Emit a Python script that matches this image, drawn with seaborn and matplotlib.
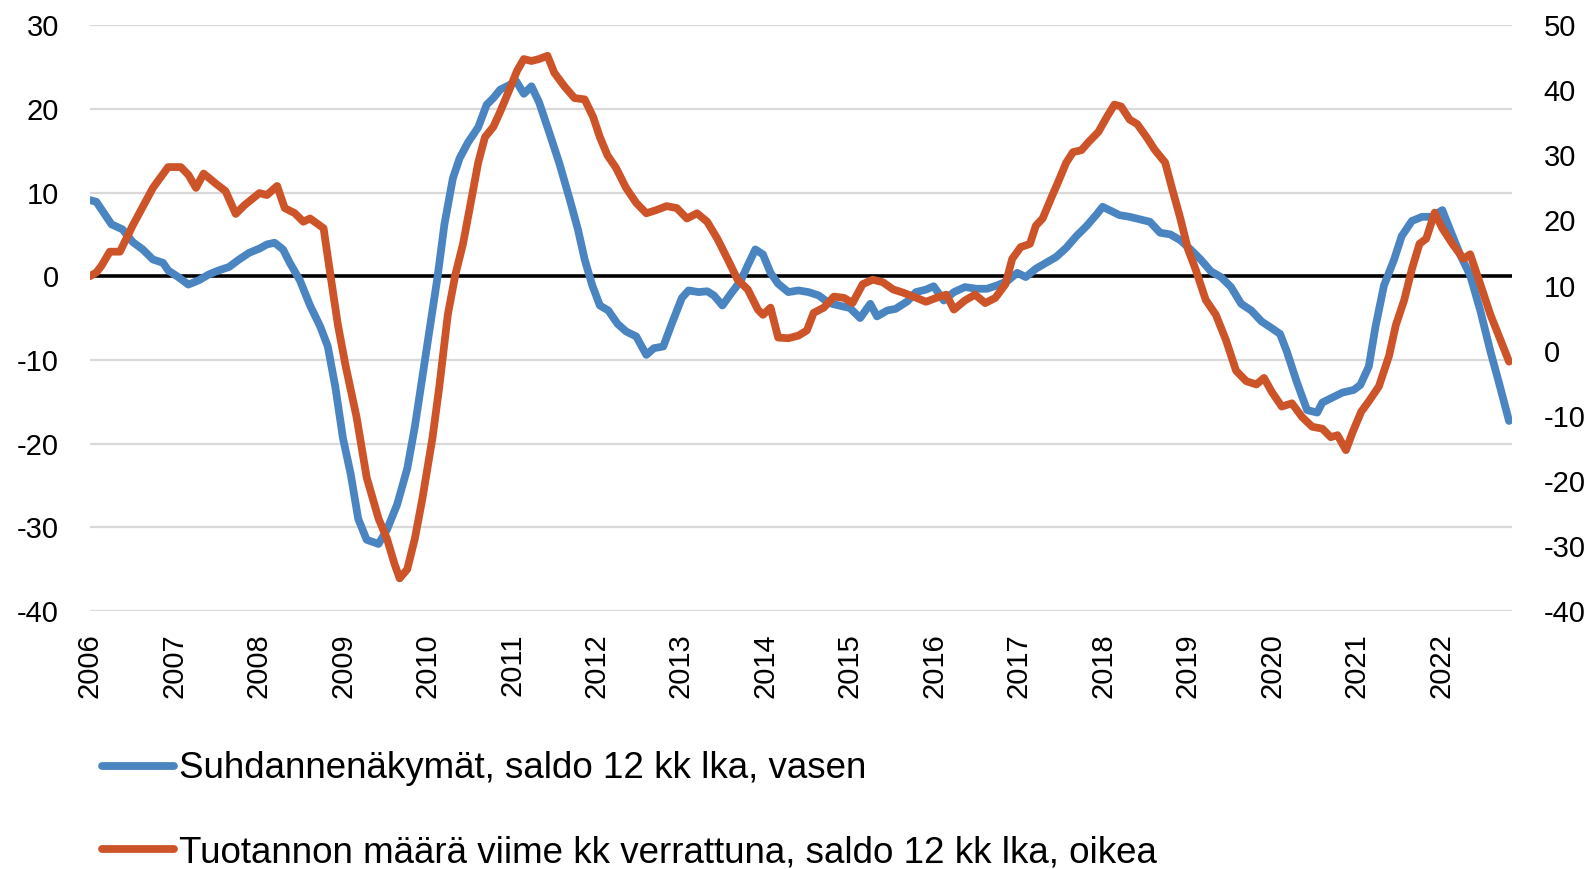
import numpy as np
import pandas as pd
import matplotlib
matplotlib.use("Agg")
import matplotlib.pyplot as plt
import seaborn as sns
from matplotlib import font_manager

# ── DATA (decimal years) ─────────────────────────────────────────
blue_year = [2006.00, 2006.08, 2006.14, 2006.26, 2006.39, 2006.51, 2006.63, 2006.75, 2006.87, 2006.93,
             2007.05, 2007.17, 2007.29, 2007.41, 2007.53, 2007.65, 2007.77, 2007.89, 2008.01, 2008.10,
             2008.19, 2008.29, 2008.37, 2008.49, 2008.61, 2008.73, 2008.82, 2008.91, 2009.00, 2009.09,
             2009.18, 2009.28, 2009.42, 2009.52, 2009.64, 2009.76, 2009.85, 2009.94, 2010.02, 2010.12,
             2010.20, 2010.30, 2010.38, 2010.48, 2010.60, 2010.70, 2010.78, 2010.86, 2010.96, 2011.05,
             2011.14, 2011.23, 2011.32, 2011.44, 2011.56, 2011.68, 2011.78, 2011.86, 2011.95, 2012.04,
             2012.14, 2012.25, 2012.35, 2012.47, 2012.59, 2012.68, 2012.79, 2012.89, 2013.01, 2013.09,
             2013.21, 2013.31, 2013.39, 2013.49, 2013.59, 2013.71, 2013.79, 2013.88, 2013.97, 2014.06,
             2014.15, 2014.27, 2014.39, 2014.51, 2014.63, 2014.75, 2014.87, 2015.00, 2015.12, 2015.24,
             2015.32, 2015.44, 2015.54, 2015.68, 2015.78, 2015.90, 2015.99, 2016.11, 2016.23, 2016.36,
             2016.50, 2016.62, 2016.74, 2016.86, 2016.98, 2017.08, 2017.20, 2017.32, 2017.44, 2017.56,
             2017.68, 2017.80, 2017.92, 2017.99, 2018.09, 2018.19, 2018.31, 2018.43, 2018.55, 2018.67,
             2018.79, 2018.91, 2019.03, 2019.15, 2019.27, 2019.39, 2019.51, 2019.63, 2019.75, 2019.87,
             2019.99, 2020.09, 2020.17, 2020.29, 2020.41, 2020.53, 2020.59, 2020.71, 2020.83, 2020.96,
             2021.04, 2021.14, 2021.22, 2021.32, 2021.44, 2021.53, 2021.65, 2021.77, 2021.89, 2022.01,
             2022.10, 2022.22, 2022.34, 2022.46, 2022.58, 2022.68, 2022.80]
blue_val = [9.1, 8.9, 8.0, 6.2, 5.6, 4.1, 3.2, 2.0, 1.6, 0.7,
            -0.1, -1.0, -0.5, 0.2, 0.7, 1.1, 2.0, 2.8, 3.3, 3.8,
            4.0, 3.2, 1.6, -0.5, -3.5, -6.0, -8.4, -13.3, -19.4, -23.6,
            -29.0, -31.5, -32.0, -30.3, -27.3, -23.0, -18.0, -12.0, -6.6, 0.0,
            6.2, 11.7, 14.1, 16.0, 17.8, 20.5, 21.3, 22.3, 22.8, 23.3,
            21.8, 22.7, 20.8, 17.2, 13.5, 9.3, 5.6, 2.0, -1.1, -3.5,
            -4.1, -5.7, -6.6, -7.2, -9.4, -8.6, -8.4, -5.7, -2.6, -1.7,
            -1.9, -1.8, -2.3, -3.5, -2.1, -0.5, 1.3, 3.2, 2.6, 0.4,
            -0.9, -1.9, -1.7, -1.9, -2.3, -3.2, -3.5, -3.8, -5.0, -3.3,
            -4.8, -4.1, -3.9, -3.0, -1.9, -1.6, -1.2, -2.9, -1.9, -1.3,
            -1.5, -1.5, -1.1, -0.6, 0.4, -0.1, 0.9, 1.6, 2.3, 3.4,
            4.8, 6.0, 7.4, 8.3, 7.8, 7.3, 7.1, 6.8, 6.5, 5.2,
            5.0, 4.3, 3.2, 2.0, 0.6, -0.1, -1.3, -3.3, -4.1, -5.4,
            -6.2, -6.9, -9.0, -12.7, -16.0, -16.3, -15.1, -14.5, -13.9, -13.6,
            -13.0, -10.8, -6.0, -1.1, 2.0, 4.8, 6.6, 7.1, 7.1, 7.9,
            5.6, 2.6, 0.1, -4.1, -9.0, -12.7, -17.3]

red_year = [2006.00, 2006.08, 2006.14, 2006.24, 2006.36, 2006.51, 2006.75, 2006.93, 2007.08, 2007.17,
            2007.26, 2007.35, 2007.51, 2007.61, 2007.73, 2007.83, 2008.01, 2008.10, 2008.22, 2008.31,
            2008.43, 2008.53, 2008.61, 2008.77, 2008.85, 2008.94, 2009.03, 2009.16, 2009.28, 2009.42,
            2009.52, 2009.61, 2009.67, 2009.76, 2009.85, 2009.94, 2010.06, 2010.14, 2010.24, 2010.33,
            2010.42, 2010.50, 2010.60, 2010.68, 2010.78, 2010.86, 2010.96, 2011.06, 2011.14, 2011.23,
            2011.32, 2011.42, 2011.50, 2011.62, 2011.74, 2011.86, 2011.96, 2012.04, 2012.13, 2012.23,
            2012.35, 2012.47, 2012.59, 2012.71, 2012.83, 2012.95, 2013.07, 2013.19, 2013.31, 2013.43,
            2013.55, 2013.67, 2013.79, 2013.91, 2013.97, 2014.06, 2014.15, 2014.27, 2014.39, 2014.49,
            2014.57, 2014.69, 2014.81, 2014.93, 2015.03, 2015.15, 2015.27, 2015.39, 2015.51, 2015.63,
            2015.75, 2015.90, 2016.02, 2016.14, 2016.23, 2016.36, 2016.48, 2016.60, 2016.72, 2016.84,
            2016.92, 2017.02, 2017.13, 2017.20, 2017.28, 2017.38, 2017.46, 2017.56, 2017.64, 2017.74,
            2017.82, 2017.94, 2018.04, 2018.13, 2018.21, 2018.31, 2018.40, 2018.51, 2018.61, 2018.73,
            2018.81, 2018.91, 2019.00, 2019.09, 2019.21, 2019.33, 2019.45, 2019.57, 2019.69, 2019.81,
            2019.90, 2019.99, 2020.11, 2020.23, 2020.35, 2020.47, 2020.59, 2020.69, 2020.77, 2020.87,
            2020.95, 2021.05, 2021.14, 2021.26, 2021.38, 2021.46, 2021.56, 2021.65, 2021.74, 2021.82,
            2021.92, 2022.01, 2022.13, 2022.26, 2022.34, 2022.46, 2022.58, 2022.70, 2022.80]
red_val = [11.4, 12.0, 13.0, 15.2, 15.2, 19.2, 25.0, 28.2, 28.2, 27.0,
           25.0, 27.2, 25.5, 24.5, 21.0, 22.3, 24.2, 23.9, 25.3, 21.9,
           21.1, 19.8, 20.3, 18.8, 11.7, 3.9, -2.3, -10.2, -19.5, -25.8,
           -28.9, -32.8, -35.0, -33.6, -28.9, -22.7, -13.3, -5.5, 5.5, 11.7,
           16.4, 21.9, 28.9, 32.8, 34.4, 36.7, 39.8, 43.0, 44.8, 44.5,
           44.8, 45.3, 42.7, 40.6, 38.8, 38.6, 35.9, 32.8, 30.0, 28.1,
           25.0, 22.7, 21.1, 21.6, 22.2, 21.9, 20.3, 21.1, 19.8, 17.2,
           14.1, 10.9, 9.4, 6.3, 5.5, 6.6, 2.0, 1.9, 2.3, 3.1,
           5.8, 6.6, 8.3, 8.1, 7.3, 10.2, 10.9, 10.5, 9.4, 8.9,
           8.3, 7.5, 8.1, 8.6, 6.3, 7.7, 8.6, 7.3, 8.1, 10.2,
           14.1, 15.9, 16.4, 19.2, 20.3, 23.4, 25.8, 28.9, 30.5, 30.8,
           32.0, 33.6, 35.9, 37.8, 37.5, 35.5, 34.8, 32.8, 30.8, 28.9,
           25.0, 20.3, 15.6, 12.5, 7.8, 5.5, 1.6, -3.1, -4.7, -5.2,
           -4.2, -6.3, -8.6, -8.1, -10.2, -11.7, -12.0, -13.3, -13.0, -15.3,
           -12.5, -9.4, -7.8, -5.5, -0.8, 3.9, 7.8, 12.5, 16.4, 17.2,
           21.2, 18.8, 16.4, 14.1, 14.8, 10.2, 5.5, 1.6, -1.7]

years = list(range(2006, 2023))
left_ticks = [-40, -30, -20, -10, 0, 10, 20, 30]
right_ticks = [-40, -30, -20, -10, 0, 10, 20, 30, 40, 50]

label_blue = "Suhdannenäkymät, saldo 12 kk lka, vasen"
label_red = "Tuotannon määrä viime kk verrattuna, saldo 12 kk lka, oikea"

blue_df = pd.DataFrame({"year": blue_year, "value": blue_val})
red_df = pd.DataFrame({"year": red_year, "value": red_val})

# ── STYLE ────────────────────────────────────────────────────────
sns.set_theme(style="white")
plt.rcParams["font.family"] = ["Liberation Sans", "DejaVu Sans"]
plt.rcParams["text.color"] = "black"
plt.rcParams["xtick.color"] = "black"
plt.rcParams["ytick.color"] = "black"

# narrow face for the legend if one is around
installed = {f.name for f in font_manager.fontManager.ttflist}
legend_family = ["Liberation Sans"]
for cand in ["Liberation Sans Narrow", "DejaVu Sans Condensed"]:
    if cand in installed:
        legend_family = [cand, "Liberation Sans"]
        break

BLUE = "#4A85C1"
RED = "#CD5429"

fig = plt.figure(figsize=(15.96, 8.69), dpi=100)
ax = fig.add_axes([0.0561, 0.297, 0.8910, 0.674])
ax2 = ax.twinx()

# gridlines + zero line on the left axis
for t in left_ticks:
    if t == 0:
        ax.axhline(0, color="black", lw=2.6, zorder=1)
    else:
        ax.axhline(t, color="#D9D9D9", lw=1.6, zorder=0)

sns.lineplot(data=blue_df, x="year", y="value", ax=ax, color=BLUE, lw=5.6,
             label=label_blue, legend=False, zorder=3)
sns.lineplot(data=red_df, x="year", y="value", ax=ax2, color=RED, lw=5.6,
             label=label_red, legend=False, zorder=3)

ax.set_xlim(2006, 2022.83)
ax.set_ylim(-40, 30)
ax2.set_ylim(-40, 50)

ax.set_xticks(years)
ax.set_xticklabels([str(y) for y in years], rotation=90, fontsize=21)
ax.set_yticks(left_ticks)
ax.set_yticklabels([str(t) for t in left_ticks], fontsize=21)
ax2.set_yticks(right_ticks)
ax2.set_yticklabels([str(t) for t in right_ticks], fontsize=21)

ax.tick_params(axis="x", length=0, pad=16)
ax.tick_params(axis="y", length=0, pad=22)
ax2.tick_params(axis="y", length=0, pad=23)
ax.set_xlabel("")
ax.set_ylabel("")
ax2.set_ylabel("")
ax.grid(False)
ax2.grid(False)

for a in (ax, ax2):
    for s in a.spines.values():
        s.set_visible(False)

# legend below the plot
h1, l1 = ax.get_legend_handles_labels()
h2, l2 = ax2.get_legend_handles_labels()
leg = fig.legend(h1 + h2, l1 + l2, loc="center left", bbox_to_anchor=(0.064, 0.067),
                 frameon=False, prop={"family": legend_family, "size": 26.5},
                 handlelength=1.95, handletextpad=0.15,
                 labelspacing=1.32, borderpad=0, borderaxespad=0)
for line in leg.get_lines():
    line.set_linewidth(5.6)

fig.savefig("out.png", dpi=100)
